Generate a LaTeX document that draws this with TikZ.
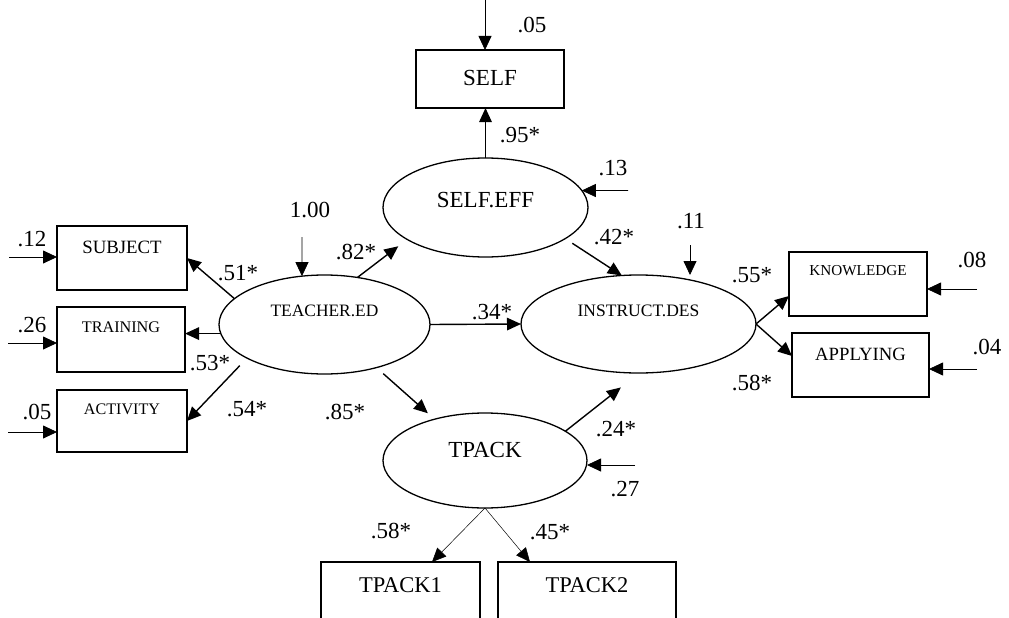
\documentclass[tikz,border=0pt]{standalone}
\usepackage{fontspec}
\setmainfont{Liberation Serif}
\usetikzlibrary{arrows.meta,shapes.geometric}

\tikzset{
  obs_box/.style={rectangle,draw,line width=1.3pt,inner sep=0pt,outer sep=0pt},
  lat_var/.style={ellipse,draw,line width=1.3pt,inner sep=0pt,outer sep=0pt},
  txt/.style n args={3}{font=\fontsize{#1}{#1}\selectfont,text height=#2pt,text depth=#3pt},
  coef/.style={font=\fontsize{23}{23}\selectfont,inner sep=0pt},
}

\begin{document}
\begin{tikzpicture}[
  x=1pt, y=-1pt,
  path_line/.style={-{Triangle[length=14pt,width=12.5pt]},line width=1.4pt},
  err_line/.style={-{Triangle[length=14pt,width=13pt]},line width=0.8pt},
  thin_line/.style={-{Triangle[length=14pt,width=12.5pt]},line width=0.5pt},
  ]
  \useasboundingbox (0,0) rectangle (1009,618);

  \node[lat_var,minimum width=205pt,minimum height=99pt,txt={23}{15.2}{16}] (seff) at (485.5,207.5) {SELF.EFF};
  \node[lat_var,minimum width=211pt,minimum height=99pt,txt={17.4}{11.5}{28}] (ted) at (324.5,324.5) {TEACHER.ED};
  \node[lat_var,minimum width=235pt,minimum height=98pt,txt={17.5}{11.6}{26}] (idx) at (638.5,324) {INSTRUCT.DES};
  \node[lat_var,minimum width=204pt,minimum height=95pt,txt={23}{15.2}{21}] (tpack) at (485,460.5) {TPACK};

  \node[obs_box,minimum width=148pt,minimum height=58pt,txt={23}{15.2}{2}] (self) at (490,79) {SELF};
  \node[obs_box,minimum width=130pt,minimum height=64pt,txt={18.8}{12.4}{20.6}] (subj) at (122,258) {SUBJECT};
  \node[obs_box,minimum width=128pt,minimum height=65pt,txt={16.2}{10.7}{25.6}] (train) at (121,339.5) {TRAINING};
  \node[obs_box,minimum width=130pt,minimum height=62pt,txt={16.1}{10.6}{24.6}] (act) at (122,421) {ACTIVITY};
  \node[obs_box,minimum width=138pt,minimum height=64pt,txt={15.2}{10}{27.4}] (know) at (858,284) {KNOWLEDGE};
  \node[obs_box,minimum width=137pt,minimum height=64pt,txt={18.7}{12.3}{22}] (appl) at (860.5,365) {APPLYING};
  \node[obs_box,minimum width=159pt,minimum height=80pt,txt={22.5}{14.9}{33.4}] (tp1) at (400.5,602) {TPACK1};
  \node[obs_box,minimum width=178pt,minimum height=80pt,txt={22.5}{14.9}{33.4}] (tp2) at (587,602) {TPACK2};

  \coordinate (e_self) at (485,0);
  \coordinate (e_seff) at (628,190.5);
  \coordinate (e_ted) at (302,237);
  \coordinate (e_idx) at (690,245);
  \coordinate (e_tpack) at (635,465);
  \coordinate (e_subj) at (9,257);
  \coordinate (e_train) at (8,343);
  \coordinate (e_act) at (8,432);
  \coordinate (e_know) at (977,289);
  \coordinate (e_appl) at (977,369);

  \draw[err_line] (e_self) -- (e_self |- self.north);
  \draw[err_line] (e_seff) -- (seff.10);
  \draw[err_line] (e_ted) -- (ted.115);
  \draw[err_line] (e_idx) -- (e_idx |- idx.north);
  \draw[err_line] (e_tpack) -- (e_tpack -| tpack.east);
  \foreach \b in {subj,train,act}
    \draw[err_line] (e_\b) -- (e_\b -| \b.west);
  \foreach \b in {know,appl}
    \draw[err_line] (e_\b) -- (e_\b -| \b.east);

  \draw[path_line] (seff.north) -- (seff.north |- self.south);
  \draw[path_line] (ted.164) -- (subj.east);
  \draw[path_line] (ted.185) -- (ted.185 -| train.east);
  \draw[path_line] ([xshift=-26pt]ted.215) -- (act.east);
  \draw[path_line] (ted.55) -- ([shift={(-29,-2)}]seff.215);
  \draw[path_line] (ted.east) -- (idx.west);
  \draw[path_line] ([yshift=-8pt]ted.325) -- ([shift={(-20,-3)}]tpack.130);
  \draw[path_line] ([shift={(5,6)}]seff.340) -- (idx.109);
  \draw[path_line] (idx.east) -- ([yshift=-12pt]know.west);
  \draw[path_line] (idx.east) -- ([yshift=9pt]appl.west);
  \draw[path_line] (tpack.20) -- ([yshift=-15pt]idx.250);
  \draw[thin_line] (tpack.south) -- ([xshift=-48pt]tp1.north east);
  \draw[thin_line] (tpack.south) -- ([xshift=32pt]tp2.north west);

  \foreach \nm/\x/\y/\lbl in {c_self/520/135/.95*, c_subj/238/273/.51*, c_seff/356/252/.82*,
      c_train/210/363/.53*, c_act/247/409/.54*, c_idx/492/312/.34*, c_tpack/345/412/.85*,
      c_seffidx/614/237/.42*, c_know/752/275/.55*, c_appl/752/383/.58*, c_tpidx/616/429/.24*,
      c_tp1/391/531/.58*, c_tp2/550/532/.45*}
    \node[coef] (\nm) at (\x,\y) {\lbl};

  \foreach \nm/\x/\y/\lbl in {r_self/532/25/.05, r_seff/613/168/.13, r_ted/310/210/1.00,
      r_idx/691/221/.11, r_tpack/625/489/.27, r_subj/32/239/.12, r_train/32/325/.26,
      r_act/37/412/.05, r_know/972/260/.08, r_appl/987/347/.04}
    \node[coef] (\nm) at (\x,\y) {\lbl};
\end{tikzpicture}
\end{document}
